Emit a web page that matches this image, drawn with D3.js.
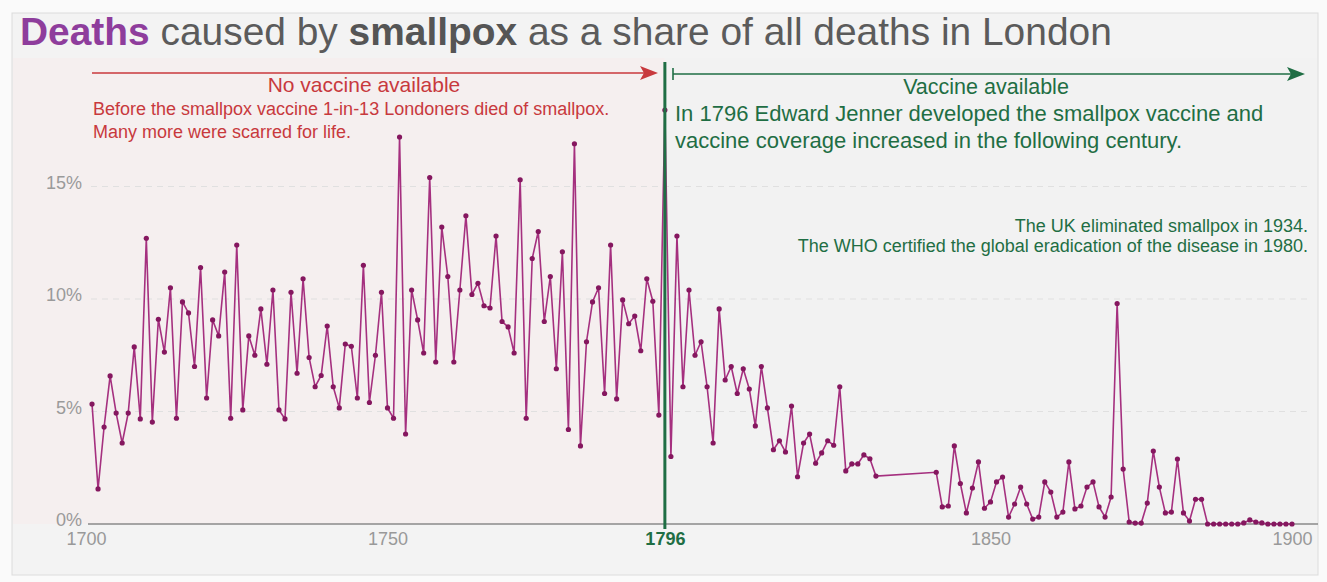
<!DOCTYPE html>
<html>
<head>
<meta charset="utf-8">
<script src="https://cdn.jsdelivr.net/npm/d3@7"></script>
<style>
  body { margin: 0; background: #ffffff; }
  svg { display: block; font-family: "Liberation Sans", Arial, Helvetica, sans-serif; }
</style>
</head>
<body>
<div id="chart"></div>
<script>
// smallpox deaths as share of all deaths (%)
const years1 = d3.range(1701, 1832);
const share1 = [
  5.33, 1.56, 4.31, 6.58, 4.93, 3.6, 4.93, 7.87, 4.67, 12.7,
  4.53, 9.1, 7.64, 10.5, 4.7, 9.87, 9.38, 7.0, 11.4, 5.6,
  9.07, 8.36, 11.2, 4.7, 12.4, 5.07, 8.36, 7.5, 9.56, 7.1,
  10.4, 5.07, 4.67, 10.3, 6.7, 10.9, 7.4, 6.1, 6.6, 8.8,
  6.1, 5.16, 8.0, 7.9, 5.6, 11.5, 5.4, 7.5, 10.3, 5.16,
  4.7, 17.2, 4.0, 10.4, 9.07, 7.6, 15.4, 7.2, 13.2, 11.0,
  7.2, 10.4, 13.7, 10.2, 10.7, 9.7, 9.6, 12.8, 9.0, 8.76,
  7.6, 15.3, 4.7, 11.8, 13.0, 9.0, 11.0, 6.9, 12.1, 4.2,
  16.9, 3.47, 8.1, 9.87, 10.5, 5.8, 12.4, 5.56, 9.96, 8.9,
  9.24, 7.7, 10.9, 9.9, 4.84, 18.4, 3.0, 12.8, 6.1, 10.4,
  7.5, 8.1, 6.1, 3.6, 9.56, 6.4, 7.0, 5.8, 6.9, 6.0,
  4.36, 7.0, 5.16, 3.3, 3.7, 3.2, 5.24, 2.1, 3.6, 4.0,
  2.7, 3.16, 3.7, 3.5, 6.1, 2.36, 2.67, 2.67, 3.07, 2.9,
  2.13
];
const years2 = d3.range(1841, 1901);
const share2 = [
  2.3, 0.76, 0.8, 3.47, 1.8, 0.49, 1.6, 2.76, 0.7, 0.98,
  1.87, 2.09, 0.31, 0.89, 1.64, 0.89, 0.22, 0.31, 1.87, 1.42,
  0.31, 0.53, 2.76, 0.67, 0.8, 1.64, 1.87, 0.76, 0.31, 1.2,
  9.8, 2.44, 0.09, 0.04, 0.04, 0.93, 3.24, 1.64, 0.49, 0.53,
  2.89, 0.49, 0.13, 1.1, 1.1, 0, 0, 0, 0, 0,
  0, 0.05, 0.18, 0.09, 0.05, 0, 0, 0, 0, 0
];
const yTicks = [0, 5, 10, 15];
const xTicks = [1700, 1750, 1850, 1900];
const vaccineYear = 1796;

const data = years1.map((y, i) => ({year: y, v: share1[i]}))
  .concat(years2.map((y, i) => ({year: y, v: share2[i]})));

const W = 1327, H = 582;
const red = "#c8393d", green = "#1f6e44", purple = "#a5307f", dot = "#85175f";

const svg = d3.select("#chart").append("svg")
  .attr("width", W).attr("height", H);

const x = d3.scaleLinear().domain([1700, 1900]).range([86, 1292]);
const y = d3.scaleLinear().domain([0, 20]).range([524, 74]);

// background
svg.append("rect").attr("x", 0).attr("y", 0).attr("width", W).attr("height", H).attr("fill", "#fafafa");
svg.append("rect").attr("x", 12).attr("y", 13).attr("width", 1306).attr("height", 562)
  .attr("fill", "#f3f3f3").attr("stroke", "#dcdcdc");
svg.append("rect").attr("x", 13).attr("y", 58).attr("width", x(vaccineYear) - 13).attr("height", y(0) - 58)
  .attr("fill", "#f5efef");
svg.append("rect").attr("x", x(vaccineYear)).attr("y", 58).attr("width", 1317 - x(vaccineYear)).attr("height", y(0) - 58)
  .attr("fill", "#f2f2f2");

// title
const title = svg.append("text").attr("x", 20).attr("y", 45).attr("font-size", 38.9).attr("fill", "#5b5b5b");
title.append("tspan").text("Deaths").attr("font-weight", "bold").attr("fill", "#8e3d9c");
title.append("tspan").text(" caused by ");
title.append("tspan").text("smallpox").attr("font-weight", "bold").attr("fill", "#555");
title.append("tspan").text(" as a share of all deaths in London");

// gridlines
svg.append("g").selectAll("line").data(yTicks.filter(d => d > 0)).join("line")
  .attr("x1", 91).attr("x2", 1312)
  .attr("y1", d => y(d)).attr("y2", d => y(d))
  .attr("stroke", "#e0e0e0").attr("stroke-width", 1.2).attr("stroke-dasharray", "6,5");

// y axis labels
const yAxis = svg.append("g").attr("transform", "translate(82,0)")
  .call(d3.axisLeft(y).tickValues(yTicks).tickSize(0).tickPadding(0).tickFormat(d => d + "%"));
yAxis.select(".domain").remove();
yAxis.selectAll("text").attr("font-size", 18).attr("fill", "#9a9a9a")
  .attr("font-family", "Liberation Sans, Arial, sans-serif").attr("dy", "0.1em");

// x axis
svg.append("line").attr("x1", 88).attr("x2", 1318).attr("y1", y(0)).attr("y2", y(0))
  .attr("stroke", "#8a8a8a").attr("stroke-width", 1.5);
const xAxis = svg.append("g").attr("transform", `translate(0,${y(0)})`)
  .call(d3.axisBottom(x).tickValues(xTicks.concat([vaccineYear])).tickSize(0).tickPadding(8).tickFormat(d3.format("d")));
xAxis.select(".domain").remove();
xAxis.selectAll("text").attr("font-size", 18).attr("fill", "#999")
  .attr("font-family", "Liberation Sans, Arial, sans-serif");
xAxis.selectAll(".tick").filter(d => d === vaccineYear).select("text")
  .attr("fill", green).attr("font-weight", "bold");

// series line (the 1832-1840 gap is bridged, as in the picture)
svg.append("path").datum(data)
  .attr("fill", "none").attr("stroke", purple).attr("stroke-width", 1.6)
  .attr("d", d3.line().x(d => x(d.year)).y(d => y(d.v)));
svg.append("g").selectAll("circle").data(data).join("circle")
  .attr("cx", d => x(d.year)).attr("cy", d => y(d.v)).attr("r", 2.6).attr("fill", dot);

// vaccine line
svg.append("line").attr("x1", x(vaccineYear)).attr("x2", x(vaccineYear))
  .attr("y1", 62).attr("y2", y(0) + 5)
  .attr("stroke", green).attr("stroke-width", 3);

// red arrow
svg.append("line").attr("x1", 92).attr("x2", 646).attr("y1", 73).attr("y2", 73)
  .attr("stroke", red).attr("stroke-width", 1.6);
svg.append("path").attr("d", "M640,66 L658,73 L640,80 L644,73 Z").attr("fill", red);

// green arrow
svg.append("line").attr("x1", 673).attr("x2", 1292).attr("y1", 74).attr("y2", 74)
  .attr("stroke", green).attr("stroke-width", 1.6);
svg.append("line").attr("x1", 673).attr("x2", 673).attr("y1", 68).attr("y2", 80)
  .attr("stroke", green).attr("stroke-width", 1.6);
svg.append("path").attr("d", "M1287,67 L1305,74 L1287,81 L1291,74 Z").attr("fill", green);

// annotations
svg.append("text").attr("x", 364).attr("y", 92).attr("text-anchor", "middle")
  .attr("font-size", 21).attr("fill", red).text("No vaccine available");
svg.append("text").attr("x", 93).attr("y", 115).attr("font-size", 18).attr("fill", red)
  .text("Before the smallpox vaccine 1-in-13 Londoners died of smallpox.");
svg.append("text").attr("x", 93).attr("y", 138).attr("font-size", 18).attr("fill", red)
  .text("Many more were scarred for life.");

svg.append("text").attr("x", 986).attr("y", 94).attr("text-anchor", "middle")
  .attr("font-size", 21.5).attr("fill", green).text("Vaccine available");
svg.append("text").attr("x", 675).attr("y", 121).attr("font-size", 22).attr("fill", green)
  .text("In 1796 Edward Jenner developed the smallpox vaccine and");
svg.append("text").attr("x", 675).attr("y", 148).attr("font-size", 22).attr("fill", green)
  .text("vaccine coverage increased in the following century.");
svg.append("text").attr("x", 1308).attr("y", 232).attr("text-anchor", "end")
  .attr("font-size", 18).attr("fill", green).text("The UK eliminated smallpox in 1934.");
svg.append("text").attr("x", 1308).attr("y", 252).attr("text-anchor", "end")
  .attr("font-size", 18).attr("fill", green).text("The WHO certified the global eradication of the disease in 1980.");
</script>
</body>
</html>
